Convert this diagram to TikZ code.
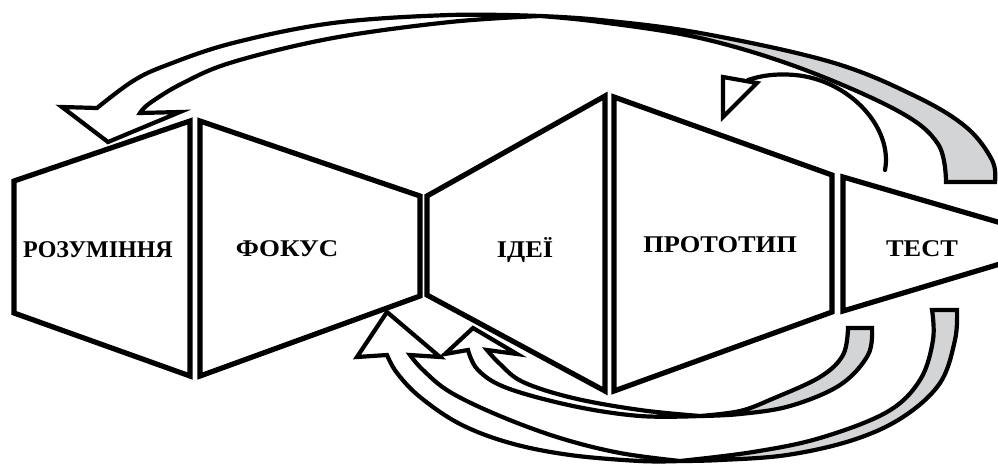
\documentclass[tikz,border=0pt]{standalone}
\usepackage{fontspec}
\setmainfont{Liberation Serif}
\definecolor{bandgrey}{RGB}{211,212,214}
\begin{document}
\begin{tikzpicture}[x=1pt,y=-1pt,
  panel/.style={draw=black, line width=5.2pt, fill=white, line join=miter},
  band/.style={draw=black, line width=4.2pt, fill=white, line join=miter},
  gband/.style={band, fill=bandgrey},
  lbl/.style={font=\bfseries\fontsize{24}{27}\selectfont, inner sep=0pt}]
\useasboundingbox (0,0) rectangle (998,464);
\clip (0,0) rectangle (998,464);

% panels
\filldraw[panel] (14,181) -- (190,121) -- (190,376) -- (14,313) -- cycle;
\filldraw[panel] (200,121) -- (420,196) -- (420,296) -- (200,376) -- cycle;
\filldraw[panel] (427,196) -- (605,96) -- (605,391) -- (427,295) -- cycle;
\filldraw[panel] (614,97) -- (832,175) -- (832,312) -- (614,391) -- cycle;
\filldraw[panel] (843,177) -- (1070,243) -- (843,311) -- cycle;

% labels
\node[lbl] (t1) at (98,250) {РОЗУМІННЯ};
\node[lbl] (t2) at (287,249) {\scalebox{1.12}[1]{ФОКУС}};
\node[lbl] (t3) at (525,250) {\scalebox{1.1}[1]{ІДЕЇ}};
\node[lbl] (t4) at (720,245) {\scalebox{1.1}[1]{ПРОТОТИП}};
\node[lbl] (t5) at (922,249) {\scalebox{1.1}[1]{ТЕСТ}};

% arrow A (top, from TEST back to UNDERSTANDING)
\filldraw[gband] plot[smooth,tension=0.6] coordinates {(995,182) (992,160) (966,127) (915,96) (831,62) (700,33) (600,20) (540,16)}
  -- plot[smooth,tension=0.6] coordinates {(540,16) (600,22) (700,38) (800,68) (898,111) (938,144) (946,182)} -- cycle;
\filldraw[band] plot[smooth,tension=0.6] coordinates {(540,16) (450,15) (333,23) (233,43) (167,65) (133,81) (97,108)}
  -- (62,107) -- (108,142) -- (180,112)
  -- plot[smooth,tension=0.6] coordinates {(140,113) (150,103) (183,83) (233,62) (333,38) (450,22) (540,16)} -- cycle;

% arrow B (small loop over PROTOTYPE)
\draw[line width=4.2pt, line cap=round] (885,170) .. controls (893,128) and (850,80) .. (795,75) .. controls (772,73) and (757,77) .. (748,80);
\filldraw[band] (723,77) -- (757,83) -- (723,117) -- cycle;

% arrow C (PROTOTYPE back to IDEAS)
\filldraw[gband] plot[smooth,tension=0.6] coordinates {(872,328) (868,355) (840,385) (790,406) (740,414) (700,416)}
  -- plot[smooth,tension=0.6] coordinates {(700,416) (740,411) (772,399) (820,377) (843,355) (848,328)} -- cycle;
\filldraw[band] plot[smooth,tension=0.6] coordinates {(700,416) (640,416) (573,406) (507,388) (478,370) (468,350)}
  -- (445,354) -- (473,328) -- (517,354)
  -- plot[smooth,tension=0.6] coordinates {(487,350) (500,364) (523,382) (573,398) (640,410) (700,416)} -- cycle;

% arrow D (TEST back to FOCUS)
\filldraw[gband] plot[smooth,tension=0.6] coordinates {(957,310) (955,340) (940,383) (903,417) (853,440) (787,455) (720,460) (680,461)}
  -- plot[smooth,tension=0.6] coordinates {(680,461) (753,452) (820,438) (887,412) (920,380) (933,340) (932,310)} -- cycle;
\filldraw[band] plot[smooth,tension=0.6] coordinates {(680,461) (640,461) (570,455) (510,443) (460,424) (420,397) (397,373) (387,355)}
  -- (357,357) -- (387,312) -- (440,357)
  -- plot[smooth,tension=0.6] coordinates {(410,355) (423,370) (450,392) (500,416) (560,438) (620,453) (680,461)} -- cycle;
\end{tikzpicture}
\end{document}
